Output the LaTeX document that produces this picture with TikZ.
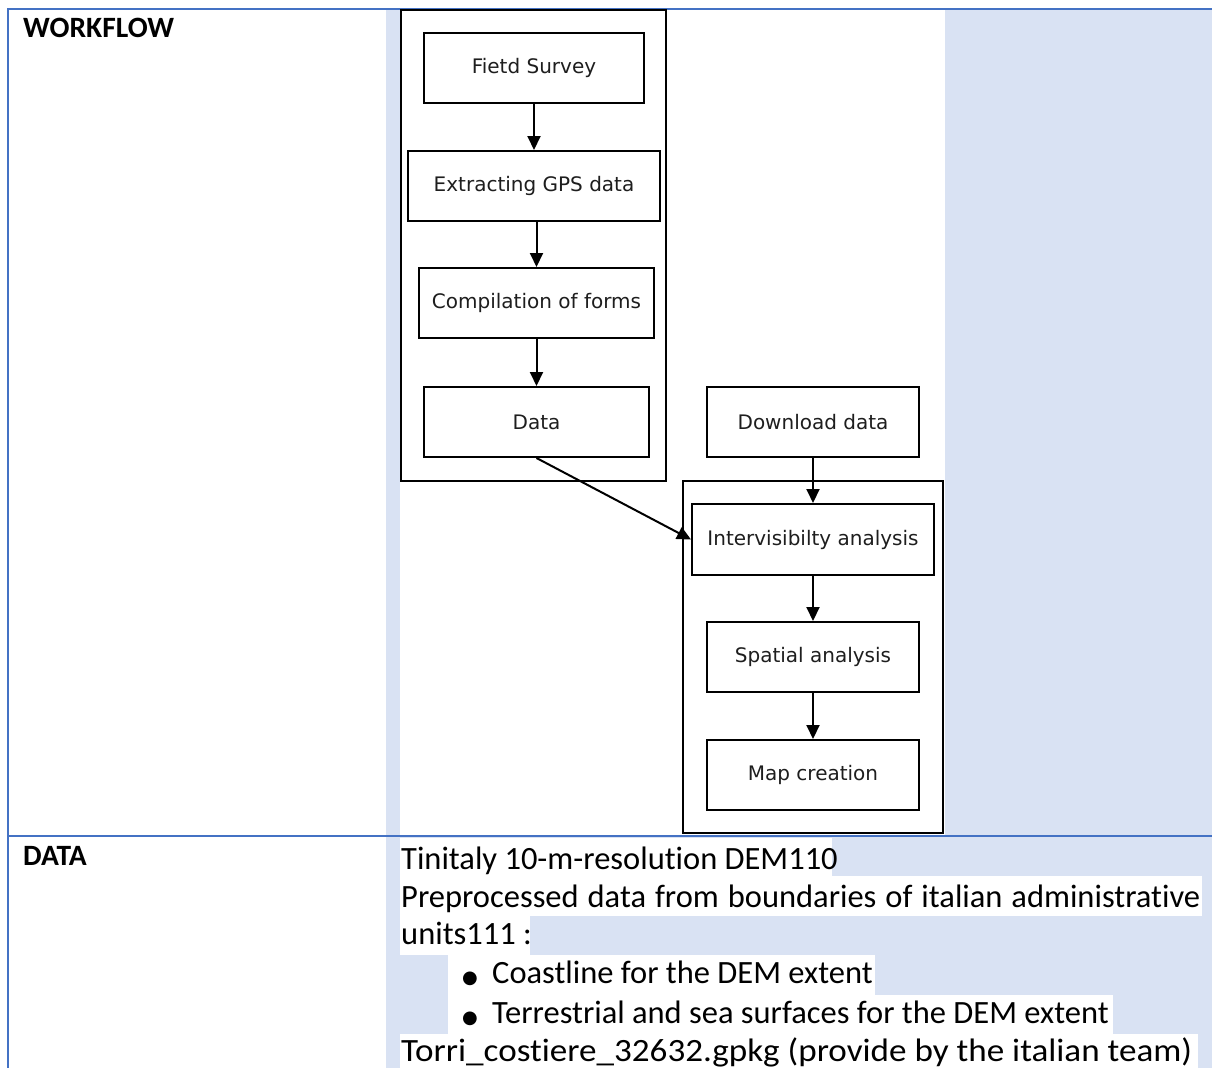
\documentclass[tikz,border=0pt]{standalone}
\usepackage{fontspec}
\usepackage{graphicx}
\setmainfont{Carlito}[Ligatures={NoCommon}]
\newfontfamily\dv{DejaVu Sans}
\usetikzlibrary{arrows.meta}
\definecolor{cellblue}{HTML}{D9E2F3}
\definecolor{rule}{HTML}{4472C4}
\definecolor{gtext}{HTML}{1E1E1E}
\tikzset{
  flowbox/.style={draw=black, line width=2pt, fill=white, inner sep=0pt, minimum height=70pt, text=gtext, font=\dv\fontsize{20}{23}\selectfont},
  flowarrow/.style={line width=2pt, -{Triangle[length=14pt,width=13pt]}},
  groupbox/.style={draw=black, line width=2pt},
  datatext/.style={anchor=base west, inner sep=0pt, font=\fontsize{32.5}{38}\selectfont},
  headtext/.style={anchor=base west, inner sep=0pt, font=\bfseries\fontsize{29.5}{34}\selectfont},
  hl/.style={fill=white, draw=none}
}
\begin{document}
\begin{tikzpicture}[x=1pt,y=-1pt]
\useasboundingbox (0,0) rectangle (1212,1068);
% backgrounds
\fill[white] (0,0) rectangle (1212,1068);
\fill[cellblue] (386,9) rectangle (1212,1068);
% diagram image area
\fill[white] (400,10) rectangle (945,835);
% text highlights
\fill[hl] (400,838) rectangle (832,876);
\fill[hl] (400,876) rectangle (1202,916);
\fill[hl] (400,916) rectangle (530,955);
\fill[hl] (448,955) rectangle (875,995);
\fill[hl] (448,995) rectangle (1113,1034);
\fill[hl] (400,1034) rectangle (1198,1068);
% table rules
\draw[rule, line width=2pt] (8,9) -- (1212,9);
\draw[rule, line width=2pt] (8,8) -- (8,1068);
\draw[rule, line width=2pt] (8,836) -- (1212,836);
% group boxes
\draw[groupbox] (401,10) rectangle (666,481);
\draw[groupbox] (683,481) rectangle (943,833);
% flow nodes
\node[flowbox, minimum width=220pt] (fs) at (534,68) {Fietd Survey};
\node[flowbox, minimum width=252pt] (gps) at (534,186) {Extracting GPS data};
\node[flowbox, minimum width=235pt] (comp) at (536.5,303) {Compilation of forms};
\node[flowbox, minimum width=225pt] (data) at (536.5,422) {Data};
\node[flowbox, minimum width=212pt] (dl) at (813,422) {Download data};
\node[flowbox, minimum width=242pt, minimum height=71pt] (inter) at (813,539.5) {Intervisibilty analysis};
\node[flowbox, minimum width=212pt] (spat) at (813,657) {Spatial analysis};
\node[flowbox, minimum width=212pt] (map) at (813,775) {Map creation};
% arrows
\draw[flowarrow] (fs.south) -- (gps.north);
\draw[flowarrow] (gps.south -| comp.north) -- (comp.north);
\draw[flowarrow] (comp.south) -- (data.north);
\draw[flowarrow] (dl.south) -- (inter.north);
\draw[flowarrow] (inter.south) -- (spat.north);
\draw[flowarrow] (spat.south) -- (map.north);
\draw[flowarrow] (data.south) -- (inter.west);
% left column headings
\node[headtext] (wf) at (23,37) {WORKFLOW};
\node[headtext] (dh) at (23,865) {DATA};
% data text
\node[datatext] (l1) at (401,869) {Tinitaly 10-m-resolution DEM110};
\node[datatext] (l2) at (401,907) {\makebox[799pt][s]{Preprocessed data from boundaries of italian administrative}};
\node[datatext] (l3) at (401,944) {units111 :};
\node[datatext] (b1) at (462,983) {{\dv\fontsize{18}{24}\selectfont ●}};
\node[datatext] (l4) at (492,983) {Coastline for the DEM extent};
\node[datatext] (b2) at (462,1023) {{\dv\fontsize{18}{24}\selectfont ●}};
\node[datatext] (l5) at (492,1023) {Terrestrial and sea surfaces for the DEM extent};
\node[datatext] (l6) at (401,1061) {\scalebox{1.08}[1]{Torri\_costiere\_32632.gpkg (provide by the italian team)}};
\end{tikzpicture}
\end{document}
